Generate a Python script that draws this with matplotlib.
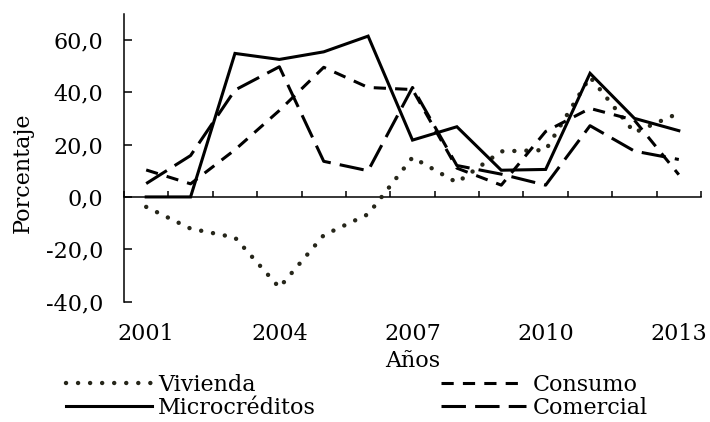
import numpy as np
import matplotlib
matplotlib.use("Agg")
import matplotlib.pyplot as plt

# ---- data ----
years = ["2001", "2002", "2003", "2004", "2005", "2006", "2007",
         "2008", "2009", "2010", "2011", "2012", "2013"]
vivienda = [-3.8, -12.1, -15.5, -34.6, -14.6, -6.6, 15.1, 5.5, 17.4, 17.9, 45.8, 24.6, 32.0]
consumo = [10.3, 5.0, 18.0, 33.0, 49.5, 41.8, 41.0, 11.0, 4.5, 25.0, 33.8, 29.3, 8.5]
microcreditos = [0.0, 0.0, 54.8, 52.5, 55.4, 61.4, 21.7, 26.8, 10.2, 10.5, 47.2, 30.0, 25.3]
comercial = [5.1, 15.8, 40.8, 49.7, 13.6, 10.0, 41.8, 12.0, 8.7, 4.5, 27.2, 17.5, 14.3]
label_years = ["2001", "2004", "2007", "2010", "2013"]
yticks = [-40, -20, 0, 20, 40, 60]

FONT = "DejaVu Serif"
FS = 16
plt.rcParams["font.family"] = [FONT]

fig = plt.figure(figsize=(7.10, 4.22), dpi=100)
ax = fig.add_axes([124 / 710, 1 - 301.7 / 422, (701 - 124) / 710, (301.7 - 13.6) / 422])

x = np.arange(len(years))
lw = 2.2
l_viv, = ax.plot(x, vivienda, color="#26261a", lw=3.2, linestyle=(0, (0.01, 2.7)),
                 dash_capstyle="round", label="Vivienda", zorder=3)
l_con, = ax.plot(x, consumo, color="black", lw=lw, linestyle=(0, (4, 3)),
                 label="Consumo", zorder=3)
l_mic, = ax.plot(x, microcreditos, color="black", lw=lw, linestyle="-",
                 solid_joinstyle="miter", label="Microcréditos", zorder=3)
l_com, = ax.plot(x, comercial, color="black", lw=lw, linestyle=(0, (8, 3)),
                 label="Comercial", zorder=3)

ax.set_xlim(-0.5, len(years) - 0.5)
ax.set_ylim(-40, 70)

for s in ["top", "right"]:
    ax.spines[s].set_visible(False)
ax.spines["bottom"].set_position(("data", 0))
for s in ["left", "bottom"]:
    ax.spines[s].set_linewidth(1.1)

ax.set_xticks(np.arange(-0.5, len(years), 1.0))
ax.tick_params(axis="x", direction="in", length=4, width=1.1, labelbottom=False)
ax.set_yticks(yticks)
ax.set_yticklabels([f"{v:.1f}".replace(".", ",") for v in yticks], fontsize=FS)
ax.tick_params(axis="y", direction="in", length=5.5, width=1.1, pad=15)
ax.set_ylabel("Porcentaje", fontsize=FS)
ax.yaxis.set_label_coords(-0.157, 0.447)

ax2 = ax.twiny()
ax2.set_xlim(ax.get_xlim())
for s in ax2.spines.values():
    s.set_visible(False)
ax2.xaxis.set_ticks_position("bottom")
ax2.xaxis.set_label_position("bottom")
ax2.set_xticks([years.index(y) for y in label_years])
ax2.set_xticklabels(label_years, fontsize=FS)
ax2.tick_params(axis="x", length=0, pad=15)
ax2.set_xlabel("Años", fontsize=FS, labelpad=4)

fig.legend(handles=[l_viv, l_mic, l_con, l_com], ncol=2, loc="upper left",
           bbox_to_anchor=(66 / 710, 1 - 374 / 422), frameon=False,
           borderpad=0, borderaxespad=0, handlelength=3.85, handletextpad=0.3,
           columnspacing=5.6, labelspacing=0.05, fontsize=FS)

fig.savefig("out.png", dpi=100)
